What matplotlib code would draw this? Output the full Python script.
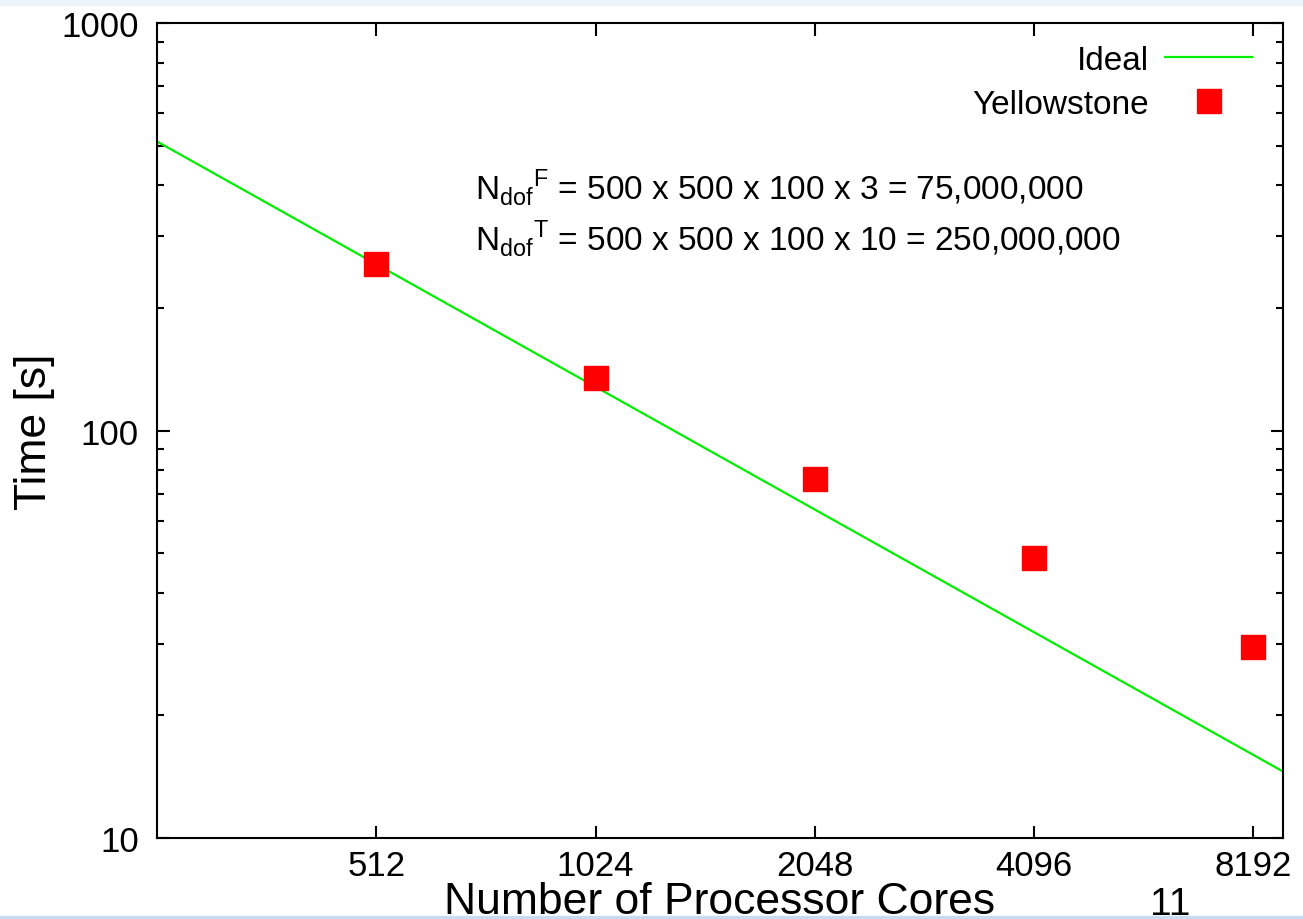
import matplotlib
matplotlib.use("Agg")
import matplotlib.pyplot as plt
import matplotlib.ticker as mticker
from matplotlib.patches import Rectangle

plt.rcParams['font.family'] = ['Liberation Sans', 'DejaVu Sans']
plt.rcParams['mathtext.fontset'] = 'custom'
plt.rcParams['mathtext.rm'] = 'Liberation Sans'

# data
cores = [512, 1024, 2048, 4096, 8192]
time_yellowstone = [256, 134.6, 76.0, 48.7, 29.4]
ideal_cores = [256, 9000]
ideal_time = [512, 14.56]
xtick_vals = [512, 1024, 2048, 4096, 8192]
xtick_labels = ['512', '1024', '2048', '4096', '8192']

fig = plt.figure(figsize=(13.03, 9.2), dpi=100)
ax = fig.add_axes([0.1205, 0.0880, 0.8642, 0.8859])

ax.plot(ideal_cores, ideal_time, color='#00ee00', lw=1.6, label='Ideal')
ax.plot(cores, time_yellowstone, ls='none', marker='s', ms=17.3, color='red',
        mec='red', label='Yellowstone')

ax.set_xscale('log', base=2)
ax.set_yscale('log')
ax.set_xlim(256, 9000)
ax.set_ylim(10, 1000)

ax.xaxis.set_major_locator(mticker.FixedLocator(xtick_vals))
ax.xaxis.set_major_formatter(mticker.FixedFormatter(xtick_labels))
ax.xaxis.set_minor_locator(mticker.NullLocator())
ax.yaxis.set_major_formatter(mticker.FuncFormatter(lambda v, p: '%d' % v))
ax.yaxis.set_minor_formatter(mticker.NullFormatter())

ax.tick_params(which='both', direction='in', top=True, right=True, width=1.5)
ax.tick_params(which='major', length=9, labelsize=25)
ax.tick_params(axis='y', which='major', pad=13)
ax.tick_params(axis='x', which='major', pad=8)
ax.tick_params(which='minor', length=5)
for s in ax.spines.values():
    s.set_linewidth(1.5)

ax.set_ylabel('Time [s]', fontsize=32, labelpad=5)
ax.set_xlabel('Number of Processor Cores', fontsize=32, labelpad=-1)

ax.legend(loc='upper right', bbox_to_anchor=(0.9725, 0.973), frameon=False,
          markerfirst=False, fontsize=24, handlelength=2.6, handletextpad=0.5,
          labelspacing=0.38, borderaxespad=0, borderpad=0, numpoints=1)

ax.text(0.2824, 0.785,
        r'N$_\mathregular{dof}$$^\mathregular{F}$ = 500 x 500 x 100 x 3 = 75,000,000',
        transform=ax.transAxes, fontsize=24, va='baseline')
ax.text(0.2824, 0.7227,
        r'N$_\mathregular{dof}$$^\mathregular{T}$ = 500 x 500 x 100 x 10 = 250,000,000',
        transform=ax.transAxes, fontsize=24, va='baseline')

# slide decorations
fig.add_artist(Rectangle((0, 1 - 6 / 920), 1, 6 / 920, transform=fig.transFigure,
                         color='#eef4fb', zorder=0))
fig.add_artist(Rectangle((0, 0), 1, 3 / 920, transform=fig.transFigure,
                         color='#c6dcf5', zorder=5))
fig.text(1170 / 1303, 1 - 915 / 920, '11', fontsize=28, ha='center', va='baseline')

fig.savefig('out.png', dpi=100)
